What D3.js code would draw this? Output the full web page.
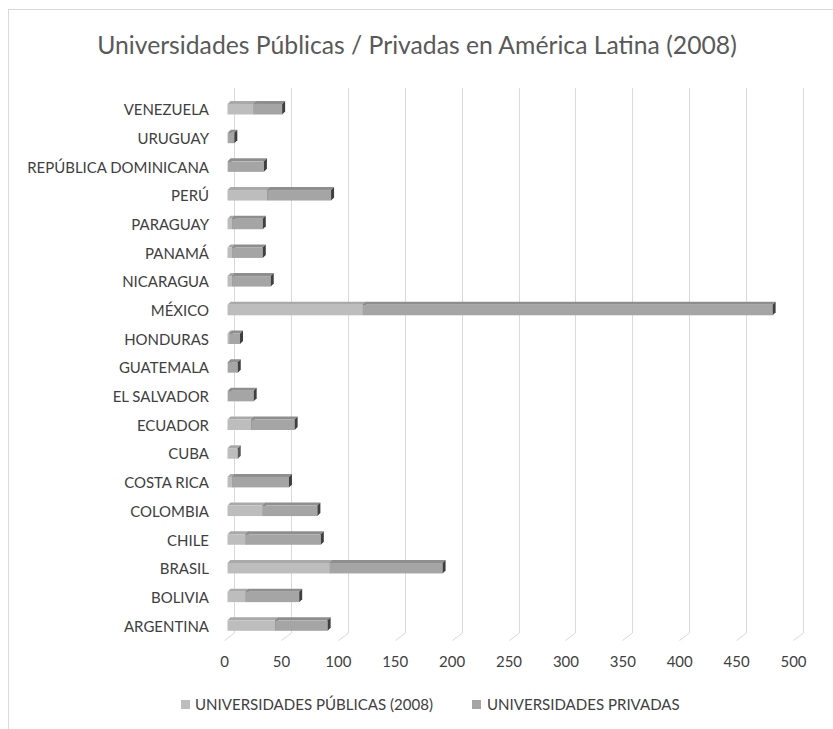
<!DOCTYPE html>
<html>
<head>
<meta charset="utf-8">
<script src="https://cdn.jsdelivr.net/npm/d3@7"></script>
<style>
  html, body { margin: 0; padding: 0; background: #fff; }
  svg { display: block; font-family: Lato, "Open Sans", "Noto Sans", sans-serif; }
</style>
</head>
<body>
<svg id="chart" width="833" height="729"></svg>
<script>
// Categories in axis order (first = bottom row)
const paises = [
  "ARGENTINA", "BOLIVIA", "BRASIL", "CHILE", "COLOMBIA", "COSTA RICA", "CUBA",
  "ECUADOR", "EL SALVADOR", "GUATEMALA", "HONDURAS", "MÉXICO", "NICARAGUA",
  "PANAMÁ", "PARAGUAY", "PERÚ", "REPÚBLICA DOMINICANA", "URUGUAY", "VENEZUELA"
];
const publicas = [42, 16, 90, 16, 31, 4, 9, 21, 1, 1, 2, 119, 4, 4, 4, 35, 1, 1, 23];
const privadas = [46, 47, 99, 66, 48, 50, 0, 38, 22, 8, 9, 360, 34, 27, 27, 56, 31, 5, 25];
const ticks = [0, 50, 100, 150, 200, 250, 300, 350, 400, 450, 500];
const series = ["UNIVERSIDADES PÚBLICAS (2008)", "UNIVERSIDADES PRIVADAS"];
const titulo = "Universidades Públicas / Privadas en América Latina (2008)";

const svg = d3.select("#chart");
const W = 833, H = 729;

svg.append("rect").attr("width", W).attr("height", H).attr("fill", "#fff");
// chart area frame
svg.append("rect")
  .attr("x", 8.5).attr("y", 9.5).attr("width", 900).attr("height", 900)
  .attr("fill", "none").attr("stroke", "#d9d9d9").attr("stroke-width", 1);

// scale helper: grow/shrink a font so a text reaches a given width
function fit(sel, target, start) {
  sel.attr("font-size", start);
  const w = sel.node().getComputedTextLength();
  const s = start * target / w;
  sel.attr("font-size", s);
  return s;
}

// title
const t = svg.append("text")
  .attr("x", 417).attr("y", 54)
  .attr("text-anchor", "middle")
  .attr("fill", "#595959")
  .text(titulo);
fit(t, 640, 24);

// back wall scales (3D box: the floor runs down-left toward the viewer)
const x = d3.scaleLinear().domain([0, 500]).range([234, 803]);
const y = d3.scaleBand().domain(paises.slice().reverse()).range([88, 633]);
const floorDx = -10, floorDy = 7.5;

// gridlines on the back wall plus their run across the floor
const grid = svg.append("g").attr("stroke", "#d9d9d9").attr("fill", "none").attr("stroke-width", 1);
ticks.forEach(v => {
  const gx = Math.round(x(v)) + 0.5;
  grid.append("path")
    .attr("d", `M${gx},88 L${gx},633 L${gx + floorDx},${633 + floorDy}`);
});

// bars: front face sits ahead of the wall, with a top face and an end face
const barDx = -6.5;      // front face shift from the wall
const barTop = 16;       // front face top within band
const barH = 10.5;       // front face height
const dep = 3;           // visible depth of the bars

const colors = {
  pub: { front: "#bdbdbd", top: "#a9a9a9", side: "#5a5a5a" },
  pri: { front: "#a5a5a5", top: "#8e8e8e", side: "#3f3f3f" }
};

const bars = svg.append("g");
paises.forEach((p, i) => {
  const segs = [
    { v0: 0, v1: publicas[i], c: colors.pub },
    { v0: publicas[i], v1: publicas[i] + privadas[i], c: colors.pri }
  ];
  const ft = y(p) + barTop, fb = ft + barH;
  segs.forEach(s => {
    const x0 = x(s.v0) + barDx, x1 = x(s.v1) + barDx;
    if (s.v1 - s.v0 <= 0) return;
    // top face
    bars.append("path")
      .attr("d", `M${x0},${ft} L${x1},${ft} L${x1 + dep},${ft - dep} L${x0 + dep},${ft - dep} Z`)
      .attr("fill", s.c.top);
    // front face
    bars.append("rect")
      .attr("x", x0).attr("y", ft).attr("width", x1 - x0).attr("height", barH)
      .attr("fill", s.c.front);
    // end face
    bars.append("path")
      .attr("d", `M${x1},${ft} L${x1 + dep},${ft - dep} L${x1 + dep},${fb - dep} L${x1},${fb} Z`)
      .attr("fill", s.c.side);
  });
});

// category labels
const catG = svg.append("g").attr("fill", "#404040").attr("text-anchor", "end");
const widest = catG.append("text").text("REPÚBLICA DOMINICANA");
const catSize = fit(widest, 182, 14);
widest.remove();
paises.forEach(p => {
  catG.append("text")
    .attr("x", 209)
    .attr("y", y(p) + barTop + 6)
    .attr("dy", "0.35em")
    .attr("font-size", catSize)
    .text(p);
});

// value axis labels along the front edge of the floor
const tickG = svg.append("g").attr("fill", "#404040").attr("text-anchor", "middle");
ticks.forEach(v => {
  tickG.append("text")
    .attr("x", x(v) + floorDx + 0.5)
    .attr("y", 662)
    .attr("dy", "0.35em")
    .attr("font-size", catSize)
    .text(v);
});

// legend
const legend = svg.append("g").attr("fill", "#404040");
const lt1 = legend.append("text").attr("x", 195).attr("y", 705).attr("dy", "0.35em").text(series[0]);
const legSize = fit(lt1, 238, 14);
legend.append("rect").attr("x", 181).attr("y", 700).attr("width", 9).attr("height", 9).attr("fill", colors.pub.front);
legend.append("rect").attr("x", 472).attr("y", 700).attr("width", 9).attr("height", 9).attr("fill", colors.pri.front);
legend.append("text").attr("x", 487).attr("y", 705).attr("dy", "0.35em").attr("font-size", legSize).text(series[1]);
</script>
</body>
</html>
